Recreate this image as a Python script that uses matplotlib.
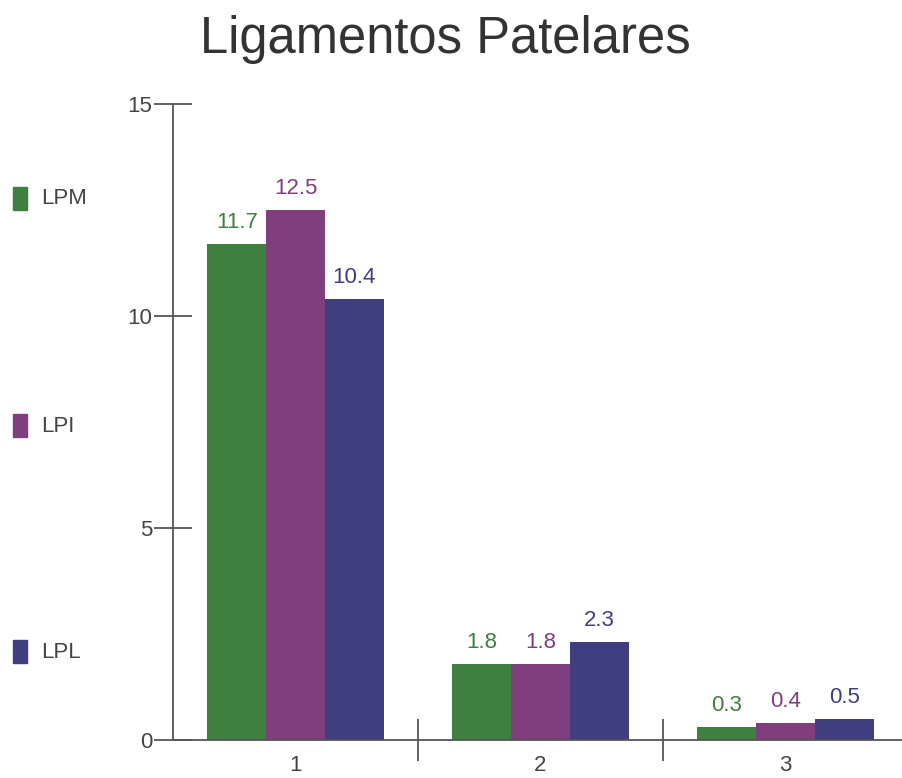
import matplotlib.pyplot as plt
from matplotlib.patches import Rectangle
import numpy as np

plt.rcParams['font.family'] = ['Liberation Sans', 'DejaVu Sans']

# data
categories = ['1', '2', '3']
series_names = ['LPM', 'LPI', 'LPL']
lpm = [11.7, 1.8, 0.3]
lpi = [12.5, 1.8, 0.4]
lpl = [10.4, 2.3, 0.5]
colors = ['#3f7f3f', '#7f3f7f', '#3f3f7f']
y_ticks = [0, 5, 10, 15]

W, H = 902, 778
fig = plt.figure(figsize=(W / 100, H / 100), dpi=100)

# axes box in pixels: left 173, bottom 740, top 104, right edge past the figure
left, right, top, bottom = 173, 902, 104, 740
ax = fig.add_axes([left / W, 1 - bottom / H, (right - left) / W, (bottom - top) / H])

x = np.arange(len(categories))
bar_w = 0.24
for i, (vals, c) in enumerate(zip([lpm, lpi, lpl], colors)):
    pos = x + (i - 1) * bar_w
    ax.bar(pos, vals, width=bar_w, color=c, zorder=2)
    for p, v in zip(pos, vals):
        ax.annotate(f'{v}', (p, v), xytext=(0, 8), textcoords='offset points',
                    ha='center', va='bottom', color=c, fontsize=16)

ax.set_ylim(0, 15)
ax.set_xlim(-0.5, 2.5 - 6 / 245)

for s in ['top', 'right']:
    ax.spines[s].set_visible(False)
for s in ['left', 'bottom']:
    ax.spines[s].set_color('#555555')
    ax.spines[s].set_linewidth(1.3)

ax.set_yticks(y_ticks)
ax.set_yticklabels([str(t) for t in y_ticks])
ax.tick_params(axis='y', direction='inout', length=28, width=1.3, color='#555555',
               labelsize=16, labelcolor='#444444', pad=1)

# category boundary ticks, labels in the middle
ax.set_xticks([0.5, 1.5])
ax.set_xticklabels(['', ''])
ax.set_xticks(x, minor=True)
ax.set_xticklabels(categories, minor=True)
ax.tick_params(axis='x', which='major', direction='inout', length=30, width=1.3,
               color='#555555')
ax.tick_params(axis='x', which='minor', length=0, labelsize=16,
               labelcolor='#444444', pad=11)

fig.text(445 / W, 1 - 40 / H, 'Ligamentos Patelares', ha='center', va='center',
         fontsize=36.5, color='#333333')

# legend on the left
legend_y = [199, 426, 652]
for name, c, yy in zip(series_names, colors, legend_y):
    fig.add_artist(Rectangle((13 / W, 1 - (yy + 11) / H), 14 / W, 23 / H,
                             color=c, transform=fig.transFigure))
    fig.text(41 / W, 1 - yy / H, name, ha='left', va='center',
             fontsize=16, color='#444444')

fig.savefig('out.png', dpi=100)
